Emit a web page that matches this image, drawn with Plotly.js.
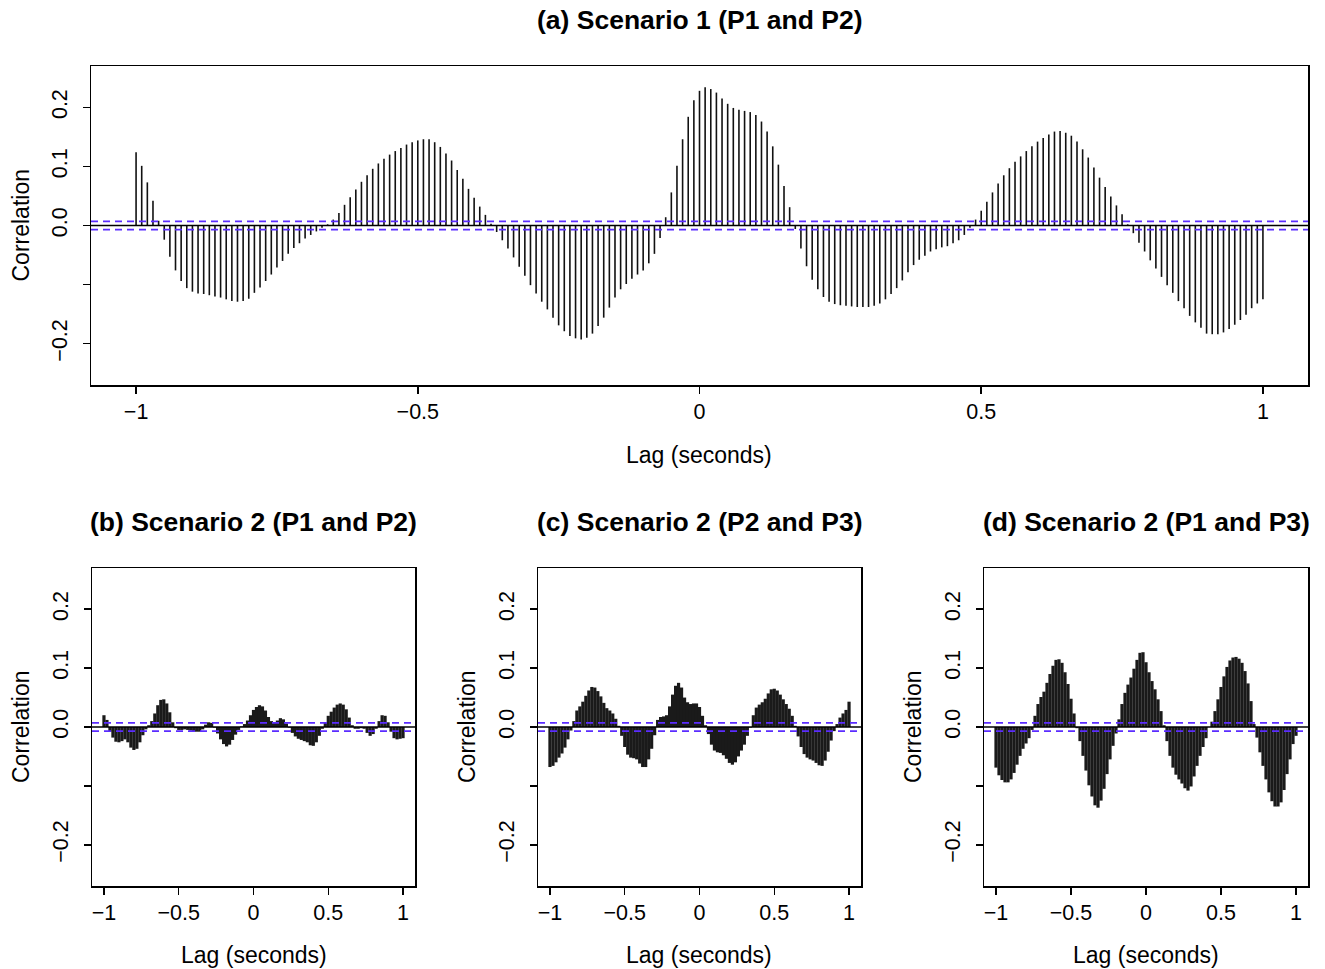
<!DOCTYPE html>
<html>
<head>
<meta charset="utf-8">
<script src="https://cdn.plot.ly/plotly-3.0.1.min.js"></script>
<style>
  html, body { margin: 0; padding: 0; background: #fff; }
  #chart { width: 1325px; height: 969px; }
</style>
</head>
<body>
<div id="chart"></div>
<script>
// ---------------- DATA ----------------
// Panel (a): lags -1..1 step 0.01 (201 values)
const lagStartA = -1, lagStepA = 0.01;
const corrA = [
  0.124, 0.101, 0.073, 0.042, 0.008, -0.024, -0.053, -0.076, -0.094, -0.106,
  -0.112, -0.115, -0.116, -0.118, -0.120, -0.122, -0.125, -0.128, -0.129, -0.128,
  -0.124, -0.114, -0.105, -0.094, -0.083, -0.071, -0.060, -0.048, -0.038, -0.030,
  -0.022, -0.016, -0.010, -0.004, 0.002, 0.010, 0.021, 0.035, 0.048, 0.061,
  0.074, 0.085, 0.096, 0.105, 0.113, 0.120, 0.126, 0.131, 0.137, 0.141,
  0.144, 0.146, 0.146, 0.141, 0.133, 0.122, 0.110, 0.094, 0.079, 0.062,
  0.047, 0.032, 0.018, 0.003, -0.011, -0.025, -0.039, -0.054, -0.070, -0.085,
  -0.101, -0.115, -0.129, -0.142, -0.156, -0.169, -0.179, -0.187, -0.191, -0.193,
  -0.190, -0.183, -0.170, -0.156, -0.139, -0.122, -0.108, -0.099, -0.090, -0.083,
  -0.076, -0.064, -0.048, -0.021, 0.014, 0.056, 0.101, 0.146, 0.184, 0.212,
  0.228, 0.234, 0.231, 0.225, 0.215, 0.206, 0.199, 0.196, 0.194, 0.192,
  0.187, 0.176, 0.159, 0.134, 0.103, 0.067, 0.031, -0.006, -0.039, -0.069,
  -0.092, -0.108, -0.121, -0.129, -0.133, -0.135, -0.136, -0.137, -0.138, -0.138,
  -0.138, -0.136, -0.132, -0.125, -0.116, -0.106, -0.093, -0.079, -0.067, -0.058,
  -0.051, -0.044, -0.040, -0.037, -0.035, -0.030, -0.025, -0.016, -0.004, 0.010,
  0.025, 0.040, 0.056, 0.071, 0.085, 0.097, 0.108, 0.117, 0.126, 0.134,
  0.142, 0.148, 0.154, 0.159, 0.160, 0.157, 0.152, 0.142, 0.129, 0.115,
  0.098, 0.081, 0.065, 0.049, 0.034, 0.019, 0.002, -0.013, -0.029, -0.044,
  -0.059, -0.073, -0.087, -0.101, -0.114, -0.128, -0.140, -0.153, -0.164, -0.173,
  -0.183, -0.184, -0.184, -0.181, -0.175, -0.168, -0.160, -0.151, -0.140, -0.132,
  -0.125
];

// Panels (b)-(d): lags -1..1 step 0.02 (101 values)
const lagStartB = -1, lagStepB = 0.02;
const corrB = [
  0.020, 0.012, -0.008, -0.018, -0.025, -0.026, -0.024, -0.021, -0.026, -0.035,
  -0.039, -0.037, -0.026, -0.014, -0.004, 0.003, 0.010, 0.023, 0.037, 0.046,
  0.047, 0.040, 0.025, 0.008, -0.002, -0.005, -0.005, -0.004, -0.005, -0.006,
  -0.008, -0.008, -0.008, -0.004, 0.004, 0.008, 0.007, -0.001, -0.011, -0.021,
  -0.029, -0.033, -0.030, -0.022, -0.013, -0.005, 0.001, 0.005, 0.011, 0.020,
  0.029, 0.034, 0.037, 0.035, 0.028, 0.017, 0.010, 0.008, 0.011, 0.015,
  0.013, 0.006, -0.001, -0.010, -0.016, -0.020, -0.022, -0.024, -0.026, -0.031,
  -0.032, -0.026, -0.015, -0.003, 0.008, 0.019, 0.026, 0.033, 0.038, 0.040,
  0.038, 0.030, 0.016, 0.003, -0.003, -0.003, -0.002, -0.003, -0.010, -0.015,
  -0.012, -0.003, 0.010, 0.020, 0.019, 0.008, -0.008, -0.019, -0.021, -0.020,
  -0.019
];
const corrC = [
  -0.068, -0.066, -0.060, -0.052, -0.045, -0.035, -0.021, -0.006, 0.010, 0.028,
  0.035, 0.043, 0.053, 0.062, 0.068, 0.067, 0.061, 0.052, 0.041, 0.032,
  0.028, 0.023, 0.014, 0.002, -0.015, -0.034, -0.047, -0.052, -0.053, -0.055,
  -0.062, -0.068, -0.068, -0.055, -0.037, -0.014, 0.012, 0.017, 0.018, 0.020,
  0.035, 0.055, 0.070, 0.075, 0.067, 0.050, 0.042, 0.039, 0.040, 0.040,
  0.034, 0.019, 0.003, -0.012, -0.030, -0.040, -0.043, -0.044, -0.048, -0.054,
  -0.061, -0.064, -0.060, -0.050, -0.040, -0.030, -0.015, -0.001, 0.020, 0.033,
  0.038, 0.042, 0.048, 0.057, 0.064, 0.065, 0.062, 0.055, 0.047, 0.039,
  0.031, 0.019, 0.002, -0.016, -0.034, -0.046, -0.052, -0.055, -0.057, -0.061,
  -0.065, -0.066, -0.057, -0.042, -0.023, -0.007, 0.005, 0.016, 0.023, 0.029,
  0.043
];
const corrD = [
  -0.069, -0.082, -0.090, -0.094, -0.094, -0.089, -0.078, -0.064, -0.049, -0.037,
  -0.028, -0.019, -0.005, 0.019, 0.039, 0.051, 0.060, 0.075, 0.090, 0.104,
  0.114, 0.115, 0.109, 0.093, 0.073, 0.048, 0.023, -0.002, -0.024, -0.049,
  -0.074, -0.099, -0.118, -0.133, -0.137, -0.125, -0.105, -0.080, -0.055, -0.032,
  -0.011, 0.013, 0.039, 0.058, 0.072, 0.084, 0.099, 0.114, 0.126, 0.127,
  0.110, 0.093, 0.078, 0.064, 0.047, 0.027, 0.003, -0.024, -0.049, -0.069,
  -0.081, -0.089, -0.096, -0.104, -0.108, -0.101, -0.084, -0.066, -0.049, -0.034,
  -0.019, 0.000, 0.009, 0.027, 0.047, 0.068, 0.086, 0.102, 0.113, 0.118,
  0.119, 0.116, 0.109, 0.095, 0.074, 0.044, 0.005, -0.018, -0.043, -0.066,
  -0.089, -0.111, -0.126, -0.135, -0.135, -0.128, -0.107, -0.080, -0.055, -0.029,
  -0.015
];

const confLimit = 0.007;
const titles = ['(a) Scenario 1 (P1 and P2)', '(b) Scenario 2 (P1 and P2)',
                '(c) Scenario 2 (P2 and P3)', '(d) Scenario 2 (P1 and P3)'];
const xTickVals = [-1, -0.5, 0, 0.5, 1];
const xTickText = ['\u22121', '\u22120.5', '0', '0.5', '1'];
const yTickVals = [-0.2, -0.1, 0, 0.1, 0.2];
const yTickText = ['\u22120.2', '', '0.0', '0.1', '0.2'];
const xLabel = 'Lag (seconds)';
const yLabel = 'Correlation';

// ---------------- LAYOUT HELPERS ----------------
const W = 1325, H = 969;
const fx = p => p / W;
const fy = p => 1 - p / H;
const FONT = 'Liberation Sans, Arial, Helvetica, sans-serif';

function lagGrid(start, step, n) {
  const out = [];
  for (let i = 0; i < n; i++) out.push(+(start + i * step).toFixed(4));
  return out;
}

const panels = [
  { vals: corrA, lags: lagGrid(lagStartA, lagStepA, corrA.length), px: [91, 1308], py: [66, 385], lw: 1.6, col: '#111' },
  { vals: corrB, lags: lagGrid(lagStartB, lagStepB, corrB.length), px: [92, 415], py: [568, 886], lw: 3.2, col: '#1a1a1a' },
  { vals: corrC, lags: lagGrid(lagStartB, lagStepB, corrC.length), px: [538, 861], py: [568, 886], lw: 3.2, col: '#1a1a1a' },
  { vals: corrD, lags: lagGrid(lagStartB, lagStepB, corrD.length), px: [984, 1308], py: [568, 886], lw: 3.2, col: '#1a1a1a' }
];

const traces = [];
const layout = {
  width: W, height: H,
  margin: { l: 0, r: 0, t: 0, b: 0 },
  paper_bgcolor: '#fff', plot_bgcolor: '#fff',
  showlegend: false,
  font: { family: FONT, color: '#000', size: 21 },
  shapes: [], annotations: []
};

panels.forEach((p, i) => {
  const n = i === 0 ? '' : String(i + 1);
  const xa = 'x' + n, ya = 'y' + n;
  // vertical bars from 0 to value
  const xs = [], ys = [];
  p.lags.forEach((l, k) => { xs.push(l, l, null); ys.push(0, p.vals[k], null); });
  traces.push({
    type: 'scatter', mode: 'lines', x: xs, y: ys, xaxis: xa, yaxis: ya,
    line: { color: p.col, width: p.lw }, hoverinfo: 'skip', connectgaps: false
  });

  layout['xaxis' + n] = {
    domain: [fx(p.px[0]), fx(p.px[1])], anchor: ya,
    range: [-1.08, 1.08], tickmode: 'array', tickvals: xTickVals, ticktext: xTickText,
    ticks: 'outside', ticklen: 7, tickwidth: 1.5, tickcolor: '#000',
    showline: true, mirror: true, linecolor: '#000', linewidth: 1.5,
    showgrid: false, zeroline: false, tickfont: { size: 21.5, family: FONT, color: '#000' },
    fixedrange: true
  };
  layout['yaxis' + n] = {
    domain: [fy(p.py[1]), fy(p.py[0])], anchor: xa,
    range: [-0.27, 0.27], tickmode: 'array', tickvals: yTickVals, ticktext: yTickText,
    tickangle: -90, ticklabelstandoff: 7,
    ticks: 'outside', ticklen: 7, tickwidth: 1.5, tickcolor: '#000',
    showline: true, mirror: true, linecolor: '#000', linewidth: 1.5,
    showgrid: false, zeroline: false, tickfont: { size: 21.5, family: FONT, color: '#000' },
    fixedrange: true
  };

  // zero line and confidence lines
  layout.shapes.push({
    type: 'line', xref: xa + ' domain', yref: ya, x0: 0, x1: 1, y0: 0, y1: 0,
    line: { color: '#000', width: 1.7 }, layer: 'above'
  });
  [confLimit, -confLimit].forEach(c => layout.shapes.push({
    type: 'line', xref: xa + ' domain', yref: ya, x0: 0, x1: 1, y0: c, y1: c,
    line: { color: '#5b2cff', width: 1.8, dash: '7px,5px' }, layer: 'above'
  }));

  const cx = (p.px[0] + p.px[1]) / 2;
  const cy = (p.py[0] + p.py[1]) / 2;
  // panel title
  layout.annotations.push({
    text: '<b>' + titles[i] + '</b>', xref: 'paper', yref: 'paper',
    x: fx(cx), y: fy(i === 0 ? 20 : 522), xanchor: 'center', yanchor: 'middle',
    showarrow: false, font: { size: 26.5, family: FONT, color: '#000' }
  });
  // x label
  layout.annotations.push({
    text: xLabel, xref: 'paper', yref: 'paper',
    x: fx(cx), y: fy(i === 0 ? 455 : 955), xanchor: 'center', yanchor: 'middle',
    showarrow: false, font: { size: 23, family: FONT, color: '#000' }
  });
  // y label
  layout.annotations.push({
    text: yLabel, xref: 'paper', yref: 'paper', textangle: -90,
    x: fx(p.px[0] - 71), y: fy(cy), xanchor: 'center', yanchor: 'middle',
    showarrow: false, font: { size: 23, family: FONT, color: '#000' }
  });
});

Plotly.newPlot('chart', traces, layout, { staticPlot: true, displayModeBar: false });
</script>
</body>
</html>
